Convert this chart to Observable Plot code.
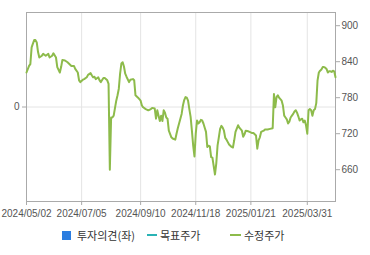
<!DOCTYPE html>
<html><head><meta charset="utf-8">
<script src="https://cdn.jsdelivr.net/npm/d3@7"></script>
<script src="https://cdn.jsdelivr.net/npm/@observablehq/plot@0.6"></script>
<style>
html,body{margin:0;padding:0;background:#fff;}
#wrap{position:relative;width:370px;height:255px;overflow:hidden;font-family:"Liberation Sans",Arial,sans-serif;}
#wrap svg{position:absolute;left:0;top:0;background:transparent;overflow:visible;}
.lg{position:absolute;top:228px;height:14px;display:flex;align-items:center;font-family:"Noto Sans CJK KR","Noto Sans",sans-serif;font-size:11px;color:#333;white-space:nowrap;}
.sq{width:9px;height:9px;margin-right:6px;}
.ln{width:10px;height:2px;margin-right:3px;}
</style></head>
<body><div id="wrap"></div>
<script>
// trading-day index (0 = 2024/05/02) and adjusted price (수정주가)
const days = [0,2,3,4,5,6,7,8,9,10,12,13,15,17,18,20,21,23,24,26,27,28,30,32,33,35,37,38,40,41,42,44,45,47,48,50,51,52,53,54,56,57,58,60,61,63,64,65,66,67,68,70,71,72,73,74,75,76,77,78,80,81,83,84,85,87,89,90,91,93,95,97,98,100,101,102,103,104,105,106,107,108,109,110,111,113,114,116,117,118,119,120,121,122,123,124,125,126,127,128,129,130,131,132,133,134,135,136,137,138,139,140,141,142,143,144,145,147,148,149,150,151,152,153,154,155,156,157,158,160,161,162,163,165,166,168,169,170,171,173,174,176,177,179,180,181,182,183,185,186,188,190,192,193,194,195,196,197,199,200,201,202,203,204,205,206,207,208,209,210,211,212,213,214,215,216,217,218,219,220,221,222,223,224,225,226,227,228,229,230,231,232,233,234,235,236,237,238,239,240,241];
const prices = [822,833,836,864,870,876,876,872,856,847,850,853,850,853,847,850,854,847,831,822,831,843,842,839,837,833,833,828,822,809,806,810,811,814,818,821,817,814,815,811,814,809,806,813,813,809,803,660,747,747,750,775,784,795,820,837,839,832,820,815,806,810,811,809,784,780,775,767,764,761,759,761,763,762,745,759,750,741,750,741,759,755,747,745,725,714,712,710,720,729,737,745,753,767,776,781,780,775,761,748,725,700,682,720,742,737,739,743,742,737,730,723,698,700,699,681,680,652,670,700,714,728,733,730,725,713,710,706,702,698,697,709,723,734,730,725,715,719,725,724,723,721,721,717,695,709,714,723,725,727,727,728,729,786,764,781,784,780,775,767,750,747,744,737,740,747,750,753,757,759,755,749,742,744,745,739,742,734,720,759,761,759,750,759,761,771,809,822,825,827,831,831,830,828,822,824,824,823,825,824,814];
const xTickDays = [0,43,89,132,175,219];
const xTickLabels = ["2024/05/02","2024/07/05","2024/09/10","2024/11/18","2025/01/21","2025/03/31"];
const priceTicks = [660,720,780,840,900];
const priceDomain = [607,922];
const opinionTicks = [0];
const opinionDomain = [-1,1];
const dayDomain = [0,241];
const legendLabels = ["투자의견(좌)","목표주가","수정주가"];
const legendColors = ["#2b7de0","#2ab3b5","#8dbb4b"];
const legendKinds = ["square","line","line"];

const W=370,H=222,mL=26,mR=35,mT=12,mB=21;
const font = {fontFamily:'"Liberation Sans",Arial,sans-serif', fontSize:"10px", color:"#555"};
const wrap = document.getElementById("wrap");

const bg = Plot.plot({
  width:W,height:H,marginLeft:mL,marginRight:mR,marginTop:mT,marginBottom:mB,
  style:{...font, background:"transparent"},
  x:{domain:dayDomain},
  y:{domain:opinionDomain},
  marks:[
    Plot.ruleX(xTickDays,{stroke:"#e4e4e4",strokeWidth:1}),
    Plot.ruleY(opinionTicks,{stroke:"#e4e4e4",strokeWidth:1}),
    Plot.axisX(xTickDays,{anchor:"bottom",label:null,tickSize:4,tickPadding:4,stroke:"#aaa",fill:"#555",
      tickFormat:d=>xTickLabels[xTickDays.indexOf(d)]}),
    Plot.axisY(opinionTicks,{anchor:"left",label:null,tickSize:4,tickPadding:3,stroke:"#aaa",fill:"#555",tickFormat:d=>String(d)}),
    Plot.frame({stroke:"#aaa",strokeWidth:1})
  ]
});
wrap.appendChild(bg);

const series = days.map((d,i)=>({d,p:prices[i]}));
const fg = Plot.plot({
  width:W,height:H,marginLeft:mL,marginRight:mR,marginTop:mT,marginBottom:mB,
  style:{...font, background:"transparent"},
  x:{domain:dayDomain,axis:null},
  y:{domain:priceDomain},
  marks:[
    Plot.line(series,{x:"d",y:"p",stroke:legendColors[2],strokeWidth:2,strokeLinejoin:"round"}),
    Plot.axisY(priceTicks,{anchor:"right",label:null,tickSize:4,tickPadding:2,stroke:"#aaa",fill:"#555"})
  ]
});
wrap.appendChild(fg);

const lefts = [62,147,230];
legendLabels.forEach((lab,i)=>{
  const item = document.createElement("div");
  item.className="lg";
  item.style.left = lefts[i]+"px";
  const sw = document.createElement("div");
  sw.className = legendKinds[i]==="square" ? "sq" : "ln";
  sw.style.background = legendColors[i];
  if (i===2) sw.style.width="11px";
  item.appendChild(sw);
  const t = document.createElement("span");
  t.textContent = lab;
  item.appendChild(t);
  wrap.appendChild(item);
});
</script></body></html>
